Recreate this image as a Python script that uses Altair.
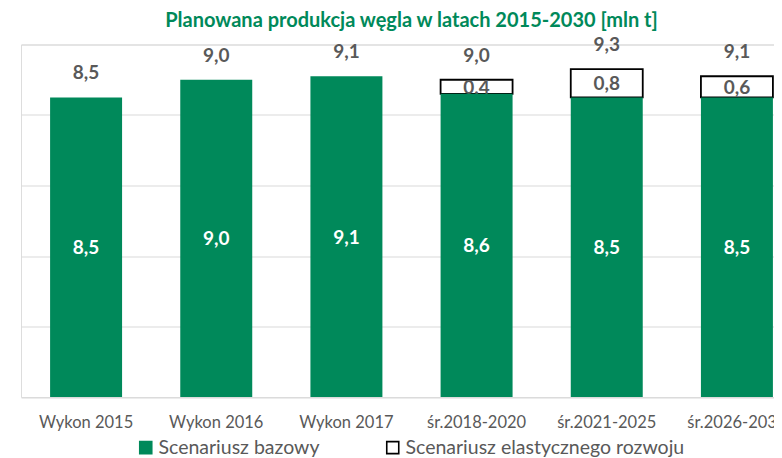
import altair as alt
import pandas as pd

categories = ["Wykon 2015", "Wykon 2016", "Wykon 2017", "śr.2018-2020", "śr.2021-2025", "śr.2026-2030"]
base = [8.5, 9.0, 9.1, 8.6, 8.5, 8.5]
extra = [0.0, 0.0, 0.0, 0.4, 0.8, 0.6]
totals = [8.5, 9.0, 9.1, 9.0, 9.3, 9.1]
series_names = ["Scenariusz bazowy", "Scenariusz elastycznego rozwoju"]

GREEN = "#00895A"
GRAY = "#595959"
FONT = "Lato"


def fmt(v):
    return f"{v:.1f}".replace(".", ",")


df_base = pd.DataFrame({
    "cat": categories,
    "y0": [0.0] * len(base),
    "y1": base,
    "mid": [b / 2 for b in base],
    "lab": [fmt(b) for b in base],
    "series": series_names[0],
})
df_extra = pd.DataFrame({
    "cat": categories,
    "y0": base,
    "y1": [b + e for b, e in zip(base, extra)],
    "mid": [b + e / 2 for b, e in zip(base, extra)],
    "lab": [fmt(e) for e in extra],
    "ext": extra,
    "series": series_names[1],
})
df_extra = df_extra[df_extra["ext"] > 0]
df_tot = pd.DataFrame({"cat": categories, "tot": totals, "lab": [fmt(t) for t in totals]})

x = alt.X("cat:N", sort=categories, title=None,
          scale=alt.Scale(range=[0, 781], paddingInner=0.447, paddingOuter=0.2235),
          axis=alt.Axis(labelAngle=0, domain=False, ticks=False, labelFontSize=16.5,
                        labelColor=GRAY, labelFont=FONT, labelPadding=17))
yscale = alt.Scale(domain=[0, 10])
yaxis = alt.Axis(values=[0, 2, 4, 6, 8, 10], labels=False, ticks=False, domain=False,
                 grid=True, gridColor="#D9D9D9", gridWidth=1.2, title=None)

fill_enc = alt.Fill("series:N", scale=alt.Scale(domain=series_names, range=[GREEN, "white"]),
                    legend=alt.Legend(title=None, orient="none", direction="horizontal",
                                      legendX=115, legendY=393, symbolType="square",
                                      symbolSize=144, symbolStrokeWidth=1.6,
                                      labelFontSize=19.5, labelFont=FONT, labelColor=GRAY,
                                      labelOffset=3, columnPadding=63, padding=0,
                                      labelLimit=400))
stroke_enc = alt.Stroke("series:N", scale=alt.Scale(domain=series_names, range=[GREEN, "black"]))

extra_bars = alt.Chart(df_extra).mark_bar(strokeWidth=1.8).encode(
    x=x, y=alt.Y("y0:Q", scale=yscale, axis=yaxis), y2="y1:Q",
    fill=fill_enc, stroke=stroke_enc)
extra_text = alt.Chart(df_extra).mark_text(font=FONT, fontSize=19, fontWeight="bold",
                                           color=GRAY, baseline="middle", dy=1).encode(
    x=alt.X("cat:N", sort=categories), y=alt.Y("mid:Q"), text="lab:N")
base_bars = alt.Chart(df_base).mark_bar(strokeWidth=0).encode(
    x=alt.X("cat:N", sort=categories), y=alt.Y("y0:Q"), y2="y1:Q",
    fill=fill_enc, stroke=stroke_enc)
base_text = alt.Chart(df_base).mark_text(font=FONT, fontSize=19, fontWeight="bold",
                                         color="white", baseline="middle", dy=1).encode(
    x=alt.X("cat:N", sort=categories), y=alt.Y("mid:Q"), text="lab:N")
tot_text = alt.Chart(df_tot).mark_text(font=FONT, fontSize=19, fontWeight="bold",
                                       color=GRAY, baseline="middle", dy=-24).encode(
    x=alt.X("cat:N", sort=categories), y=alt.Y("tot:Q"), text="lab:N")

chart = alt.layer(extra_bars, extra_text, base_bars, base_text, tot_text).properties(
    width=753, height=352.5,
    title=alt.TitleParams("Planowana produkcja węgla w latach 2015-2030 [mln t]",
                          font=FONT, fontSize=20, fontWeight="bold", color=GREEN,
                          anchor="middle", frame="group", dx=14, offset=5),
    autosize=alt.AutoSizeParams(type="none"),
    padding={"left": 13, "top": 36.5, "right": 0, "bottom": 61},
).configure_view(stroke=None).configure(background="white")

chart.save("out.html", embed_options={"renderer": "svg", "actions": False})
